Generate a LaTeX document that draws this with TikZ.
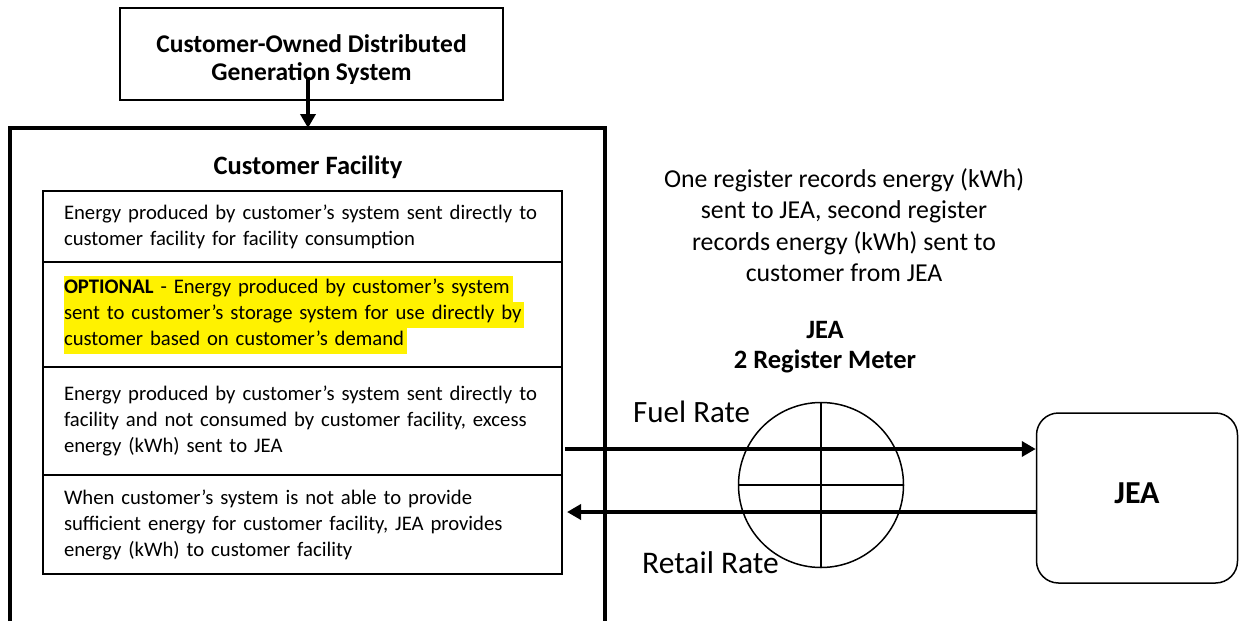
\documentclass[tikz,border=0pt]{standalone}
\usepackage{fontspec}
\setmainfont{Carlito}
\usetikzlibrary{arrows.meta}
\setlength{\fboxsep}{0pt}
\newcommand{\hlline}[1]{\colorbox{yellow}{\strut #1\hspace{3pt}}}

\begin{document}
\begin{tikzpicture}
[every node/.style={inner sep=0pt},
 rowbox/.style={draw=black, line width=2pt, anchor=north west, align=left, text width=477pt, inner xsep=21pt, font=\fontsize{20.7}{26}\selectfont},
 flow/.style={line width=4pt, -{Triangle[length=14pt,width=15pt]}}]
\useasboundingbox (0pt,0pt) rectangle (1239pt,-621pt);
% generation system and facility
\node (gen) [draw=black, line width=2pt, minimum width=383pt, minimum height=92pt] at (311.5pt, -54pt) {};
\node (gen-text) [align=center, font=\bfseries\fontsize{25.5}{28}\selectfont] at (311.5pt, -60pt) {Customer-Owned Distributed\\Generation System};
\coordinate (fac-nw) at (10pt, -128pt);
\coordinate (fac-ne) at (605pt, -128pt);
\draw [line width=4pt] (10pt, -621pt) -- (fac-nw) -- (fac-ne) -- (605pt, -621pt);
\coordinate (gen-tail) at (308pt, -77pt);
\draw [flow] (gen-tail) -- (gen-tail |- fac-nw);
\node (fac) [font=\bfseries\fontsize{26.5}{30}\selectfont] at (308pt, -167pt) {Customer Facility};
\node (r1) [rowbox, minimum height=71pt] at (42pt, -190pt) {Energy produced by customer’s system sent directly to\\customer facility for facility consumption};
\node (r2) [rowbox, minimum height=105pt] at (42pt, -261pt) {\hlline{\textbf{OPTIONAL} - Energy produced by customer’s system}\\\hlline{sent to customer’s storage system for use directly by}\\\hlline{customer based on customer’s demand}};
\node (r3) [rowbox, minimum height=108pt] at (42pt, -366pt) {Energy produced by customer’s system sent directly to\\facility and not consumed by customer facility, excess\\energy (kWh) sent to JEA};
\node (r4) [rowbox, minimum height=99pt] at (42pt, -474pt) {When customer’s system is not able to provide\\sufficient energy for customer facility, JEA provides\\energy (kWh) to customer facility};
% meter and JEA
\node (note) [align=center, font=\fontsize{25.8}{31.5}\selectfont] at (844pt, -225pt) {One register records energy (kWh)\\sent to JEA, second register\\records energy (kWh) sent to\\customer from JEA};
\node (mtitle) [align=center, font=\bfseries\fontsize{26.5}{30}\selectfont] at (825pt, -347pt) {JEA\\2 Register Meter};
\node (meter) [circle, draw=black, line width=1.5pt, minimum size=165pt] at (821pt, -485pt) {};
\draw [line width=1.5pt] (meter.north) -- (meter.south);
\draw [line width=1.5pt] (meter.west) -- (meter.east);
\node (jea) [draw=black, line width=1.5pt, rounded corners=22pt, minimum width=201pt, minimum height=170pt, font=\bfseries\fontsize{32}{36}\selectfont] at (1137pt, -498pt) {\raisebox{9pt}{JEA}};
\coordinate (out) at (565pt, -449pt);
\coordinate (in) at (567pt, -512pt);
\draw [flow] (out) -- (out -| jea.west);
\draw [flow] (in -| jea.west) -- (in);
\node (fuel) [anchor=west, font=\fontsize{31}{36}\selectfont] at (633pt, -412pt) {Fuel Rate};
\node (retail) [anchor=west, font=\fontsize{31.5}{36}\selectfont] at (642pt, -563pt) {Retail Rate};
\end{tikzpicture}
\end{document}
